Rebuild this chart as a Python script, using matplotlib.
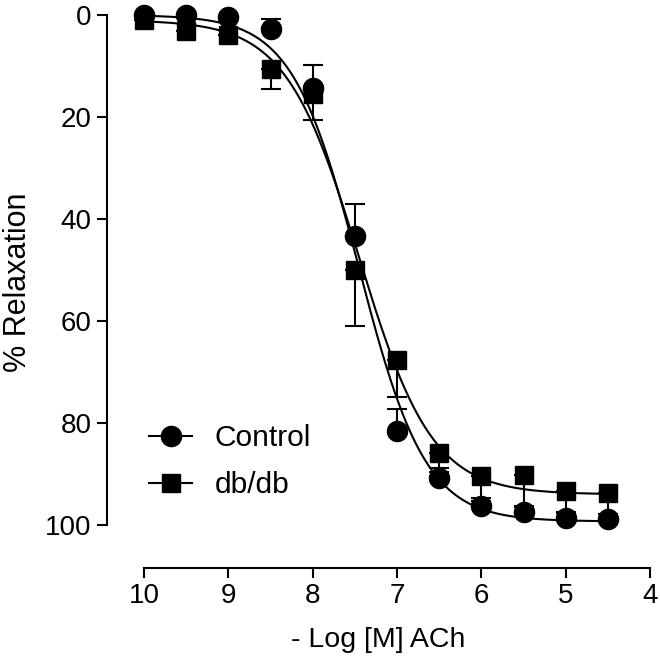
import matplotlib
matplotlib.use("Agg")
import matplotlib.pyplot as plt
from matplotlib.lines import Line2D
import numpy as np

plt.rcParams["font.family"] = ["Liberation Sans", "DejaVu Sans"]

# -log [M] ACh
log_ach = [10, 9.5, 9, 8.5, 8, 7.5, 7, 6.5, 6, 5.5, 5, 4.5]
control = [0.0, 0.0, 0.3, 2.7, 14.3, 43.3, 81.5, 90.7, 96.3, 97.4, 98.6, 98.9]
control_err = [0, 0, 0, 2.0, 4.5, 6.3, 4.3, 1.0, 1.0, 1.0, 1.0, 1.0]
dbdb = [1.0, 3.2, 4.0, 10.6, 15.5, 50.0, 67.6, 85.8, 90.4, 90.2, 93.3, 93.8]
dbdb_err = [0, 0, 0, 4.0, 5.1, 11.0, 7.3, 3.0, 4.4, 6.0, 4.2, 4.0]

# sigmoidal fit parameters: bottom, top, logEC50, hill
control_fit = (0.0, 99.3, -7.45, 1.1)
dbdb_fit = (1.0, 94.0, -7.45, 1.0)


def sigmoid(x, p):
    bottom, top, ec50, hill = p
    return bottom + (top - bottom) / (1 + 10 ** ((ec50 + x) * hill))


W, H = 660, 658
fig = plt.figure(figsize=(W / 100, H / 100), dpi=100)
left, right, top, bot = 107, 650, 15, 568
ax = fig.add_axes([left / W, 1 - bot / H, (right - left) / W, (bot - top) / H])

px_per_x = 84.33
ax.set_xlim(10 + (144 - left) / px_per_x, 4)
ax.set_ylim((bot - top) / 5.1, 0)

xs = np.linspace(10, 4.5, 300)
ax.plot(xs, sigmoid(xs, control_fit), color="black", lw=1.5, zorder=2)
ax.plot(xs, sigmoid(xs, dbdb_fit), color="black", lw=1.5, zorder=2)

zeros = [0] * len(log_ach)
ax.errorbar(log_ach, control, yerr=[control_err, zeros], fmt="o", ms=14.5,
            color="black", ecolor="black", elinewidth=1.5, capsize=7.5,
            capthick=1.5, clip_on=False, zorder=3)
ax.errorbar(log_ach, dbdb, yerr=[zeros, dbdb_err], fmt="s", ms=13.5,
            color="black", ecolor="black", elinewidth=1.5, capsize=7.5,
            capthick=1.5, clip_on=False, zorder=3)

for sp in ["top", "right"]:
    ax.spines[sp].set_visible(False)
for sp in ["left", "bottom"]:
    ax.spines[sp].set_linewidth(1.5)
ax.spines["left"].set_bounds(0, 100)
ax.spines["bottom"].set_bounds(10, 4)
ax.set_xticks([10, 9, 8, 7, 6, 5, 4])
ax.set_yticks([0, 20, 40, 60, 80, 100])
ax.tick_params(length=7, width=1.5, labelsize=20, pad=4)
ax.set_xlabel("- Log [M] ACh", fontsize=20.5, labelpad=13)
ax.set_ylabel("% Relaxation", fontsize=22, labelpad=9, y=0.517)

handles = [
    Line2D([], [], color="black", lw=1.5, marker="o", ms=14.5),
    Line2D([], [], color="black", lw=1.5, marker="s", ms=13.5),
]
ax.legend(handles, ["Control", "db/db"], loc="upper left",
          bbox_to_anchor=(149 / W, 1 - 424 / H), bbox_transform=fig.transFigure,
          frameon=False, fontsize=21.5, handlelength=1.45, handletextpad=0.75,
          labelspacing=0.65, borderpad=0, borderaxespad=0)

fig.savefig("out.png", dpi=100)
